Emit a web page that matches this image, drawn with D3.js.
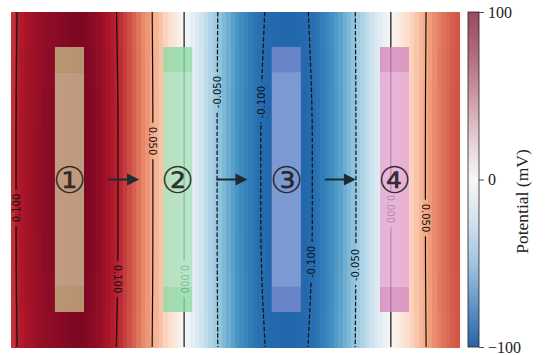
<!DOCTYPE html>
<html>
<head>
<meta charset="utf-8">
<script src="https://cdn.jsdelivr.net/npm/d3@7"></script>
<style>
  body { margin: 0; background: #fff; }
  svg { display: block; }
</style>
</head>
<body>
<svg id="chart" width="547" height="355"></svg>
<script>
// Potential across the channel (V), one value per grid column, left to right
const potential = [
  0.095, 0.103, 0.106, 0.109, 0.111, 0.113, 0.115, 0.117, 0.118, 0.119,
  0.120, 0.121, 0.122, 0.123, 0.124, 0.124, 0.123, 0.121, 0.119, 0.116,
  0.113, 0.109, 0.105, 0.102, 0.097, 0.091, 0.085, 0.078, 0.071, 0.064,
  0.058, 0.051, 0.045, 0.038, 0.031, 0.023, 0.016, 0.008, 0.001, -0.006,
  -0.013, -0.020, -0.027, -0.034, -0.040, -0.047, -0.053, -0.059, -0.065, -0.071,
  -0.077, -0.082, -0.087, -0.092, -0.096, -0.0995, -0.1015, -0.103, -0.104, -0.1045,
  -0.105, -0.105, -0.105, -0.1045, -0.104, -0.103, -0.1015, -0.0995, -0.096, -0.091,
  -0.086, -0.081, -0.075, -0.070, -0.064, -0.059, -0.053, -0.047, -0.041, -0.034,
  -0.028, -0.021, -0.015, -0.008, -0.002, 0.005, 0.011, 0.018, 0.024, 0.031,
  0.037, 0.044, 0.050, 0.056, 0.062, 0.067, 0.072, 0.076, 0.080, 0.083
];
// Relative field strength of each grid row, top to bottom
const rowGain = [0.986, 0.993, 0.998, 1.0, 1.0, 1.0, 0.998, 0.993, 0.985];
// Contour levels (V)
const levels = [-0.1, -0.05, 0, 0.05, 0.1];
// Colour bar ticks (mV)
const cbarTicks = [-100, 0, 100];
const cbarLabel = "Potential (mV)";
// Electrodes: label and centre (grid columns)
const electrodeNames = ["①", "②", "③", "④"];
const electrodeCentres = [13.05, 37.2, 61.45, 85.6];

// ---- layout & style ----
const plot = { left: 11, right: 459, top: 12, bottom: 347 };
const cbar = { left: 468, right: 479 };
const vmax = 0.13;
const rdbu = ["#67001f","#b2182b","#d6604d","#f4a582","#fddbc7","#f7f7f7",
              "#d1e5f0","#92c5de","#4393c3","#2166ac","#053061"];
const cbarStops = [
  [0, "#9b4a5e"], [0.12, "#b06a7a"], [0.25, "#cc98a4"], [0.38, "#e6cdd3"],
  [0.5, "#f7f7f7"], [0.62, "#d3e3ef"], [0.75, "#a3c3df"], [0.88, "#5f92c6"], [1, "#2962a6"]
];
// contour label placement: level, which line of that level (left to right),
// vertical position as a fraction of the height, text rotation
const labelSpots = [
  { level: 0.1,   k: 0, at: 0.585, rot: -90 },
  { level: 0.1,   k: 1, at: 0.797, rot: 90 },
  { level: 0.05,  k: 0, at: 0.385, rot: 90 },
  { level: 0,     k: 0, at: 0.797, rot: 90 },
  { level: -0.05, k: 0, at: 0.239, rot: -90 },
  { level: -0.1,  k: 0, at: 0.269, rot: -90 },
  { level: -0.1,  k: 1, at: 0.746, rot: -90 },
  { level: -0.05, k: 1, at: 0.755, rot: -90 },
  { level: 0,     k: 1, at: 0.588, rot: 90 },
  { level: 0.05,  k: 1, at: 0.615, rot: 90 }
];
// electrode strips: width in columns, vertical extent as fractions, end-cap length
const strip = { width: 6.5, top: 0.1045, bottom: 0.8955, cap: 0.075 };
const stripBody = ["rgb(209,191,151)", "rgb(168,225,187)", "rgb(149,166,219)", "rgb(227,165,210)"];
const stripCap  = ["rgb(199,184,131)", "rgb(141,217,165)", "rgb(122,139,207)", "rgb(214,135,190)"];

const svg = d3.select("#chart");
const nCols = potential.length, nRows = rowGain.length;
const x = d3.scaleLinear().domain([0, nCols]).range([plot.left, plot.right]);
const y = d3.scaleLinear().domain([0, nRows]).range([plot.top, plot.bottom]);
const yf = d3.scaleLinear().domain([0, 1]).range([plot.top, plot.bottom]);
const color = d3.scaleLinear()
  .domain(d3.range(11).map(k => vmax - k * vmax / 5))
  .range(rdbu).clamp(true);

const value = (i, j) => potential[i] * rowGain[j];

// ---- heat map ----
svg.append("g").attr("shape-rendering", "crispEdges")
  .selectAll("rect")
  .data(d3.cross(d3.range(nRows), d3.range(nCols)))
  .join("rect")
  .attr("x", d => x(d[1]))
  .attr("y", d => y(d[0]))
  .attr("width", d => x(d[1] + 1) - x(d[1]) + 0.5)
  .attr("height", d => y(d[0] + 1) - y(d[0]) + 0.5)
  .attr("fill", d => color(value(d[1], d[0])));

// ---- contour lines (marching along each row) ----
function isolines(level) {
  const lines = [];
  rowGain.forEach((g, j) => {
    let k = 0;
    for (let i = 0; i < nCols - 1; i++) {
      const a = value(i, j) - level, b = value(i + 1, j) - level;
      if ((a < 0) !== (b < 0)) {
        (lines[k] = lines[k] || []).push([i + 0.5 + a / (a - b), j + 0.5]);
        k++;
      }
    }
  });
  lines.forEach(l => {
    const n = l.length;
    l.unshift([l[0][0] - (l[1][0] - l[0][0]) / 2, 0]);
    l.push([l[n][0] + (l[n][0] - l[n - 1][0]) / 2, nRows]);
  });
  return lines;
}
const contourSets = levels.map(level => ({ level, lines: isolines(level) }));
const line = d3.line().x(d => x(d[0])).y(d => y(d[1])).curve(d3.curveMonotoneY);

const defs = svg.append("defs");
const mask = defs.append("mask").attr("id", "label-gaps").attr("maskUnits", "userSpaceOnUse")
  .attr("x", 0).attr("y", 0).attr("width", 547).attr("height", 355);
mask.append("rect").attr("width", 547).attr("height", 355).attr("fill", "#fff");
const clip = defs.append("clipPath").attr("id", "plot-clip");
clip.append("rect").attr("x", plot.left).attr("y", plot.top)
  .attr("width", plot.right - plot.left).attr("height", plot.bottom - plot.top);

const cg = svg.append("g").attr("mask", "url(#label-gaps)").attr("clip-path", "url(#plot-clip)");
contourSets.forEach(cs => {
  cs.lines.forEach(l => {
    cg.append("path").attr("d", line(l))
      .attr("fill", "none").attr("stroke", "#111").attr("stroke-width", 1.2)
      .attr("stroke-dasharray", cs.level < 0 ? "4.4,1.9" : null);
  });
});

// ---- contour labels ----
function xOnLine(l, r) {
  for (let m = 0; m < l.length - 1; m++) {
    if (r >= l[m][1] && r <= l[m + 1][1]) {
      const t = (r - l[m][1]) / (l[m + 1][1] - l[m][1]);
      return l[m][0] + t * (l[m + 1][0] - l[m][0]);
    }
  }
  return l[0][0];
}
const lg = svg.append("g");
labelSpots.forEach(s => {
  const cs = contourSets.find(c => c.level === s.level);
  const l = cs.lines[s.k];
  const r = s.at * nRows;
  const cx = x(xOnLine(l, r)), cy = y(r);
  const t = lg.append("text")
    .attr("transform", `translate(${cx},${cy}) rotate(${s.rot})`)
    .attr("text-anchor", "middle").attr("dy", "0.35em")
    .attr("font-family", "DejaVu Sans, sans-serif").attr("font-size", 10)
    .attr("fill", "#111")
    .text(s.level.toFixed(3));
  const len = t.node().getComputedTextLength();
  mask.append("rect").attr("x", cx - 7).attr("y", cy - len / 2 - 4)
    .attr("width", 14).attr("height", len + 8).attr("fill", "#000");
});

// ---- electrode strips ----
const eg = svg.append("g");
electrodeCentres.forEach((c, n) => {
  const x0 = x(c - strip.width / 2), w = x(c + strip.width / 2) - x0;
  const segs = [
    [strip.top, strip.top + strip.cap, stripCap[n]],
    [strip.top + strip.cap, strip.bottom - strip.cap, stripBody[n]],
    [strip.bottom - strip.cap, strip.bottom, stripCap[n]]
  ];
  segs.forEach(sg => {
    eg.append("rect").attr("x", x0).attr("y", yf(sg[0]))
      .attr("width", w).attr("height", yf(sg[1]) - yf(sg[0]))
      .attr("fill", sg[2]).attr("fill-opacity", 0.8);
  });
});

// ---- electrode numbers ----
const midY = yf(0.5);
svg.append("g").selectAll("text").data(electrodeNames).join("text")
  .attr("x", (d, n) => x(electrodeCentres[n]))
  .attr("y", midY)
  .attr("dy", "0.36em")
  .attr("text-anchor", "middle")
  .attr("font-family", "DejaVu Serif, serif")
  .attr("font-size", 37)
  .attr("fill", "#1e1a1a").attr("fill-opacity", 0.9)
  .text(d => d);

// ---- arrows between electrodes ----
const ag = svg.append("g").attr("fill", "#1f2b33").attr("stroke", "#1f2b33");
d3.pairs(electrodeCentres).forEach(([a, b]) => {
  const mid = (x(a) + x(b)) / 2, x1 = mid - 15.5, x2 = mid + 15.5;
  ag.append("line").attr("x1", x1).attr("x2", x2 - 10).attr("y1", midY).attr("y2", midY)
    .attr("stroke-width", 2);
  ag.append("path").attr("stroke", "none")
    .attr("d", `M${x2},${midY} L${x2 - 12},${midY - 6} L${x2 - 12},${midY + 6} Z`);
});

// ---- colour bar ----
const grad = defs.append("linearGradient").attr("id", "cbar-grad")
  .attr("x1", 0).attr("y1", 0).attr("x2", 0).attr("y2", 1);
cbarStops.forEach(s => grad.append("stop").attr("offset", s[0]).attr("stop-color", s[1]));
svg.append("rect").attr("x", cbar.left).attr("y", plot.top)
  .attr("width", cbar.right - cbar.left).attr("height", plot.bottom - plot.top)
  .attr("fill", "url(#cbar-grad)").attr("stroke", "#222").attr("stroke-width", 0.8);

const cScale = d3.scaleLinear().domain([-100, 100]).range([plot.bottom, plot.top]);
const axis = svg.append("g").attr("transform", `translate(${cbar.right},0)`)
  .call(d3.axisRight(cScale).tickValues(cbarTicks).tickSize(5).tickPadding(4));
axis.select(".domain").remove();
axis.selectAll("line").attr("stroke", "#222").attr("stroke-width", 0.8);
axis.selectAll("text").attr("font-family", "Liberation Serif, serif")
  .attr("font-size", 16).attr("fill", "#222");

svg.append("text")
  .attr("transform", `translate(522,${(plot.top + plot.bottom) / 2 + 22}) rotate(-90)`)
  .attr("text-anchor", "middle").attr("dy", "0.35em")
  .attr("font-family", "Liberation Serif, serif").attr("font-size", 17.5)
  .attr("fill", "#222")
  .text(cbarLabel);
</script>
</body>
</html>
